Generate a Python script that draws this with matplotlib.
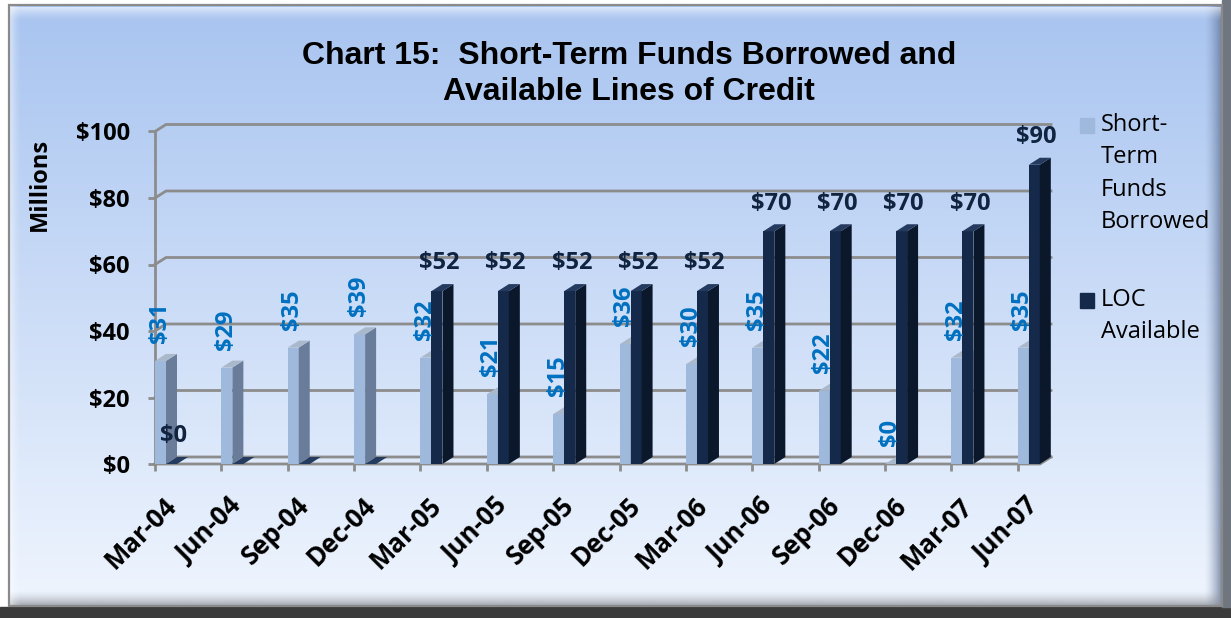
"""Chart 15: short-term funds borrowed and available lines of credit."""
import matplotlib.pyplot as plt
import matplotlib.patches as mpatches
import numpy as np
from matplotlib.transforms import ScaledTranslation

# ---- data -------------------------------------------------------------
quarters = ["Mar-04", "Jun-04", "Sep-04", "Dec-04", "Mar-05", "Jun-05", "Sep-05",
            "Dec-05", "Mar-06", "Jun-06", "Sep-06", "Dec-06", "Mar-07", "Jun-07"]
short_term = [31, 29, 35, 39, 32, 21, 15, 36, 30, 35, 22, 0, 32, 35]
loc_available = [0, 0, 0, 0, 52, 52, 52, 52, 52, 70, 70, 70, 70, 90]
loc_label_shown = [True, False, False, False] + [True] * 10
y_ticks = [0, 20, 40, 60, 80, 100]

# ---- figure / background ---------------------------------------------
W, H = 1231, 618
fig = plt.figure(figsize=(W / 100, H / 100), dpi=100)
fig.patch.set_facecolor("white")

bg = fig.add_axes([0, 0, 1, 1])
bg.set_xlim(0, W)
bg.set_ylim(H, 0)
bg.axis("off")

# dark shadow strips
bg.add_patch(mpatches.Rectangle((0, 607), W, 11, color="#3b3b3b", zorder=0))
bg.add_patch(mpatches.Rectangle((1222, 0), 9, 607, color="#6f7680", zorder=0))

# panel gradient
t = np.linspace(0, 1, 256)[:, None, None]
top_c = np.array([168, 196, 240]) / 255
bot_c = np.array([239, 245, 254]) / 255
bg.imshow(top_c + (bot_c - top_c) * t, extent=(10, 1222, 605, 6), aspect="auto", zorder=1)

# bevel edges
s = np.linspace(0, 1, 64)
right_bevel = np.zeros((1, 64, 4))
right_bevel[..., :3] = (0.38, 0.45, 0.58)
right_bevel[..., 3] = s ** 1.5 * 0.8
bg.imshow(right_bevel, extent=(1204, 1222, 605, 6), aspect="auto", zorder=2)
bottom_bevel = np.zeros((64, 1, 4))
bottom_bevel[..., :3] = (0.55, 0.57, 0.6)
bottom_bevel[..., 3] = (s ** 1.5 * 0.8)[:, None]
bg.imshow(bottom_bevel, extent=(10, 1222, 606, 590), aspect="auto", zorder=2)
top_bevel = np.zeros((64, 1, 4))
top_bevel[..., :3] = 1.0
top_bevel[..., 3] = ((1 - s) ** 1.5 * 0.6)[:, None]
bg.imshow(top_bevel, extent=(10, 1222, 22, 7), aspect="auto", zorder=2)
left_bevel = np.zeros((1, 64, 4))
left_bevel[..., :3] = 1.0
left_bevel[..., 3] = (1 - s) ** 1.5 * 0.5
bg.imshow(left_bevel, extent=(10, 22, 605, 6), aspect="auto", zorder=2)
bg.add_patch(mpatches.Rectangle((9, 5), 1213, 601, fill=False, ec="#8a8a8a", lw=1.6, zorder=3))

# ---- title -----------------------------------------------------------
fig.text(629 / W, 1 - 74 / H, "Chart 15:  Short-Term Funds Borrowed and\nAvailable Lines of Credit",
         ha="center", va="center", fontsize=23, fontweight="bold",
         family="Liberation Sans", linespacing=1.24)

# ---- main axes -------------------------------------------------------
ax = fig.add_axes([155 / W, (H - 464) / H, 896 / W, 332.5 / H])
ax.set_xlim(0, 13.5)
ax.set_ylim(0, 100)
ax.patch.set_alpha(0)
for sp in ["top", "right", "bottom"]:
    ax.spines[sp].set_visible(False)
ax.spines["left"].set_color("#8c8c8c")
ax.spines["left"].set_linewidth(2)

px_x = 896 / 13.5
px_y = 332.5 / 100
DX = 11 / px_x
DY = 7 / px_y
BW = 11 / px_x
XB = 13.5
XF = XB - DX
grid_c = "#8c8c8c"
font = "Open Sans"

ax.set_yticks(y_ticks)
ax.set_yticklabels([f"${v}" for v in y_ticks], family=font, fontweight="bold", fontsize=17)
ax.tick_params(axis="y", length=5, width=2, color=grid_c, pad=13)
ax.set_xticks(range(len(quarters)))
ax.set_xticklabels([])
ax.tick_params(axis="x", length=5, width=2, color=grid_c)

for v in y_ticks:
    ax.plot([0, DX, XB], [v, v + DY, v + DY], color=grid_c, lw=2, clip_on=False, zorder=1)
ax.plot([0, XF, XB], [0, 0, DY], color=grid_c, lw=2, clip_on=False, zorder=1)

ax.set_ylabel("Millions", family=font, fontweight="bold", fontsize=17)
ax.yaxis.set_label_coords((52 - 155) / 896, (464 - 184) / 332.5)


def draw_bar(x0, v, front, side, top, z):
    x1 = x0 + BW
    ax.add_patch(mpatches.Rectangle((x0, 0), BW, v, fc=front, ec="none", zorder=z, clip_on=False))
    ax.add_patch(mpatches.Polygon([(x1, 0), (x1 + DX, DY), (x1 + DX, v + DY), (x1, v)],
                                  fc=side, ec="none", zorder=z, clip_on=False))
    ax.add_patch(mpatches.Polygon([(x0, v), (x0 + DX, v + DY), (x1 + DX, v + DY), (x1, v)],
                                  fc=top, ec="none", zorder=z, clip_on=False))


for i, (st, lc) in enumerate(zip(short_term, loc_available)):
    draw_bar(i, st, "#9fb9dd", "#697d9b", "#aab8cc", 3)
    draw_bar(i + BW, lc, "#15294a", "#0b182c", "#243a5e", 4)
    ax.text(i + 0.07, st + 5.4, f"${st}", rotation=90, ha="center", va="bottom",
            color="#0070c0", family=font, fontweight="bold", fontsize=17, zorder=6)
    if loc_label_shown[i]:
        ax.text(i + 0.28, lc + DY + 2.6, f"${lc}", ha="center", va="bottom",
                color="#10233f", family=font, fontweight="bold", fontsize=17, zorder=6)

# rotated category labels
off = ScaledTranslation(17 / 100, -38 / 100, fig.dpi_scale_trans)
for i, q in enumerate(quarters):
    ax.text(i, 0, q, transform=ax.get_xaxis_transform() + off, rotation=45,
            rotation_mode="anchor", ha="right", va="center",
            family=font, fontweight="bold", fontsize=18.5)

# ---- legend ----------------------------------------------------------
legend_items = [("Short-\nTerm\nFunds\nBorrowed", "#9fb9dd", 118), ("LOC\nAvailable", "#15294a", 293)]
for label, color, ytop in legend_items:
    bg.add_patch(mpatches.Rectangle((1080, ytop), 14, 15, color=color, zorder=4))
    bg.text(1101, ytop - 5, label, ha="left", va="top", fontsize=17,
            family=font, linespacing=1.46, zorder=4)

fig.savefig("out.png", dpi=100)
